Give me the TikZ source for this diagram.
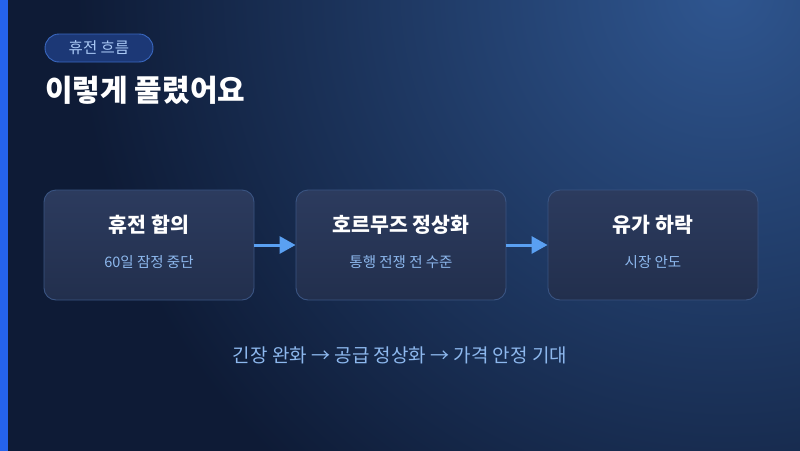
\documentclass[tikz,border=0pt]{standalone}
\usepackage{fontspec}
\setmainfont{Noto Sans CJK KR}
\usetikzlibrary{arrows.meta,positioning}

\definecolor{bgbase}{HTML}{0E1B36}
\definecolor{bgglow}{HTML}{2F5690}
\definecolor{sidebar}{HTML}{2563EB}
\definecolor{pillfill}{HTML}{1C3876}
\definecolor{pillline}{HTML}{3A68C0}
\definecolor{pilltext}{HTML}{A9C8F5}
\definecolor{boxtop}{HTML}{2C3B5E}
\definecolor{boxbot}{HTML}{222F4D}
\definecolor{boxline}{HTML}{3A5482}
\definecolor{subtext}{HTML}{8DB8EE}
\definecolor{flowblue}{HTML}{5AA0F2}

\tikzset{
  stage/.style={draw=boxline, line width=0.9pt, rounded corners=12pt,
    top color=boxtop, bottom color=boxbot, minimum width=210pt, minimum height=110pt},
  stagetitle/.style={text=white, font=\fontsize{20.5}{24}\selectfont\bfseries},
  stagesub/.style={text=subtext, font=\fontsize{14.5}{17}\selectfont},
  flow/.style={draw=flowblue, line width=3pt, -{Triangle[length=16pt, width=17pt]}}
}

\begin{document}
\begin{tikzpicture}[x=1pt, y=-1pt]
\def\boxw{252}
\def\startx{149}
\def\starty{245}
\useasboundingbox (0,0) rectangle (800,450);

% background
\fill[bgbase] (-3,-3) rectangle (803,453);
\begin{scope}
\clip (-3,-3) rectangle (803,453);
\shade[inner color=bgglow, outer color=bgbase] (725,-10) circle (650);
\end{scope}
\fill[sidebar] (-3,-3) rectangle (8,453);

% header
\node[fill=pillfill, draw=pillline, line width=0.9pt, rounded corners=14pt,
  minimum width=108pt, minimum height=28pt, text=pilltext,
  font=\fontsize{15.5}{18}\selectfont] (tag) at (99,48) {휴전 흐름};
\node[anchor=west, inner sep=0pt, text=white,
  font=\fontsize{30}{34}\selectfont\bfseries] (title) at (45,90) {이렇게 풀렸어요};

% stages
\node[stage] (s1) at (0*\boxw+\startx,\starty) {};
\node[stage] (s2) at (1*\boxw+\startx,\starty) {};
\node[stage] (s3) at (2*\boxw+\startx,\starty) {};

\node[stagetitle] (t1) at ([yshift=20pt]s1.center) {휴전 합의};
\node[stagesub] (u1) at ([yshift=-17pt]s1.center) {60일 잠정 중단};
\node[stagetitle] (t2) at ([yshift=20pt]s2.center) {호르무즈 정상화};
\node[stagesub] (u2) at ([yshift=-17pt]s2.center) {통행 전쟁 전 수준};
\node[stagetitle] (t3) at ([yshift=20pt]s3.center) {유가 하락};
\node[stagesub] (u3) at ([yshift=-17pt]s3.center) {시장 안도};

\draw[flow] (s1) -- (s2);
\draw[flow] (s2) -- (s3);

% summary
\node[text=subtext, font=\fontsize{19}{22}\selectfont] (summary) at (400,355)
  {긴장 완화 → 공급 정상화 → 가격 안정 기대};
\end{tikzpicture}
\end{document}
